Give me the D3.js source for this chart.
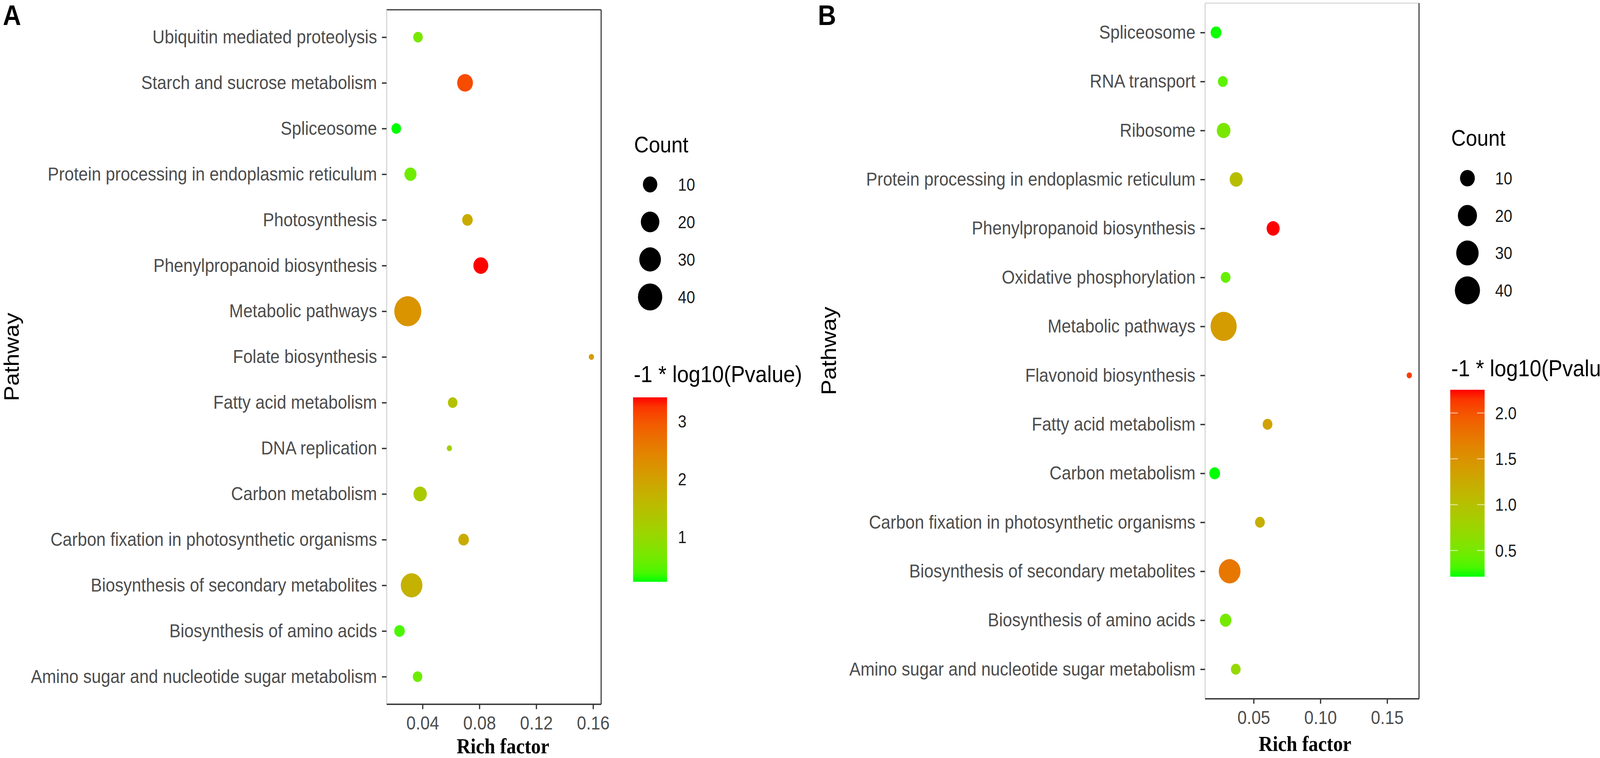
<!DOCTYPE html>
<html>
<head>
<meta charset="utf-8">
<script src="https://cdn.jsdelivr.net/npm/d3@7"></script>
<style>
  html, body { margin: 0; padding: 0; background: #ffffff; overflow: hidden; width: 100%; height: 100%; }
  svg { display: block; width: 100vw; height: 100vh; }
</style>
</head>
<body>
<svg id="chart"></svg>
<script>
// ---------------- DATA ----------------
// Panel A, listed top to bottom
const pathwaysA = [
  "Ubiquitin mediated proteolysis",
  "Starch and sucrose metabolism",
  "Spliceosome",
  "Protein processing in endoplasmic reticulum",
  "Photosynthesis",
  "Phenylpropanoid biosynthesis",
  "Metabolic pathways",
  "Folate biosynthesis",
  "Fatty acid metabolism",
  "DNA replication",
  "Carbon metabolism",
  "Carbon fixation in photosynthetic organisms",
  "Biosynthesis of secondary metabolites",
  "Biosynthesis of amino acids",
  "Amino sugar and nucleotide sugar metabolism"
];
const richA  = [0.0368, 0.0699, 0.0215, 0.0315, 0.0716, 0.0810, 0.0296, 0.1588, 0.0612, 0.0589, 0.0383, 0.0689, 0.0323, 0.0238, 0.0365];
const countA = [3, 13, 3, 6, 4, 11, 52, 1, 3, 1, 8, 4, 30, 4, 3];
const pvalA  = [0.70, 3.09, 0.226, 0.61, 1.82, 3.41, 2.20, 2.07, 1.44, 1.18, 1.28, 1.82, 1.72, 0.39, 0.61];

// Panel B, listed top to bottom
const pathwaysB = [
  "Spliceosome",
  "RNA transport",
  "Ribosome",
  "Protein processing in endoplasmic reticulum",
  "Phenylpropanoid biosynthesis",
  "Oxidative phosphorylation",
  "Metabolic pathways",
  "Flavonoid biosynthesis",
  "Fatty acid metabolism",
  "Carbon metabolism",
  "Carbon fixation in photosynthetic organisms",
  "Biosynthesis of secondary metabolites",
  "Biosynthesis of amino acids",
  "Amino sugar and nucleotide sugar metabolism"
];
const richB  = [0.0218, 0.0269, 0.0275, 0.0369, 0.0646, 0.0290, 0.0275, 0.1666, 0.0604, 0.0208, 0.0547, 0.0320, 0.0290, 0.0366];
const countB = [4, 3, 8, 7, 7, 3, 44, 1, 3, 4, 3, 28, 5, 3];
const pvalB  = [0.22, 0.38, 0.52, 1.02, 2.253, 0.42, 1.40, 2.11, 1.34, 0.214, 1.20, 1.74, 0.50, 0.70];

// Tick values / labels
const xTicksA = [0.04, 0.08, 0.12, 0.16];
const xTickLabelsA = ["0.04", "0.08", "0.12", "0.16"];
const xTicksB = [0.05, 0.10, 0.15];
const xTickLabelsB = ["0.05", "0.10", "0.15"];
const countBreaks = [10, 20, 30, 40];
const colorTicksA = [1, 2, 3];
const colorTickLabelsA = ["1", "2", "3"];
const colorTicksB = [0.5, 1.0, 1.5, 2.0];
const colorTickLabelsB = ["0.5", "1.0", "1.5", "2.0"];

// Text
const yTitle = "Pathway";
const xTitle = "Rich factor";
const sizeTitle = "Count";
const colorTitle = "-1 * log10(Pvalue)";

// ---------------- LAYOUT ----------------
const W = 4562, H = 1940;
const SANS = "'Liberation Sans', Arial, Helvetica, sans-serif";
const SERIF = "'Liberation Serif', 'Times New Roman', serif";

const svg = d3.select("#chart")
  .attr("viewBox", `0 0 ${W} ${H}`)
  .attr("preserveAspectRatio", "none");
svg.append("rect").attr("width", W).attr("height", H).attr("fill", "#ffffff");

const panels = [
  {
    letter: "A", letterX: 8, letterY: 64,
    names: pathwaysA, rich: richA, count: countA, pval: pvalA,
    xTicks: xTicksA, xTickLabels: xTickLabelsA,
    colorTicks: colorTicksA, colorTickLabels: colorTickLabelsA,
    left: 1102, right: 1714, top: 25, bottom: 1802,
    topLineColor: "#333333",
    xTitleX: 1434, xTitleY: 1928,
    yTitleX: 53,
    countTitleX: 1808, countTitleY: 390,
    countCx: 1853.6, countCy0: 472, countStep: 96, countLabelX: 1933,
    cbTitleX: 1807, cbTitleY: 978,
    cbX: 1805, cbW: 97, cbTop: 1017, cbBottom: 1489, cbLabelX: 1933,
    cbTicks: false,
    dMin: 15, dMax: 77
  },
  {
    letter: "B", letterX: 2332, letterY: 64,
    names: pathwaysB, rich: richB, count: countB, pval: pvalB,
    xTicks: xTicksB, xTickLabels: xTickLabelsB,
    colorTicks: colorTicksB, colorTickLabels: colorTickLabelsB,
    left: 3435.6, right: 4046, top: 8, bottom: 1788,
    topLineColor: "#d9d9d9",
    xTitleX: 3721, xTitleY: 1922,
    yTitleX: 2383,
    countTitleX: 4137.6, countTitleY: 373,
    countCx: 4184, countCy0: 456, countStep: 95.7, countLabelX: 4263,
    cbTitleX: 4138, cbTitleY: 963,
    cbX: 4135, cbW: 98, cbTop: 997.6, cbBottom: 1476, cbLabelX: 4263,
    cbTicks: true,
    dMin: 15, dMax: 74.5
  }
];

const defs = svg.append("defs");

panels.forEach((p, pi) => {
  const g = svg.append("g");
  const data = p.names.map((n, i) => ({ name: n, rich: p.rich[i], count: p.count[i], pval: p.pval[i] }));

  // Scales
  const [rMin, rMax] = d3.extent(p.rich);
  const pad = (rMax - rMin) * 0.05;
  const x = d3.scaleLinear().domain([rMin - pad, rMax + pad]).range([p.left, p.right]);
  const y = d3.scalePoint().domain(p.names).range([p.top, p.bottom]).padding(0.6);

  const [cMin, cMax] = d3.extent(p.count);
  const rScale = d3.scaleSqrt().domain([0, cMax - cMin]).range([p.dMin / 2, p.dMax / 2]);
  const radius = c => rScale(Math.max(0, c - cMin));

  const pExt = d3.extent(p.pval);
  const color = d3.scaleLinear().domain(pExt).range(["#00ff00", "#ff0000"]).interpolate(d3.interpolateLab);

  // Panel letter
  g.append("text").attr("x", p.letterX).attr("y", p.letterY)
    .attr("font-family", SANS).attr("font-weight", "bold").attr("font-size", 72)
    .attr("fill", "#000").text(p.letter);

  // Top and right borders
  g.append("line").attr("x1", p.left).attr("x2", p.right).attr("y1", p.top).attr("y2", p.top)
    .attr("stroke", p.topLineColor).attr("stroke-width", 3);
  g.append("line").attr("x1", p.right).attr("x2", p.right).attr("y1", p.top).attr("y2", p.bottom)
    .attr("stroke", "#333333").attr("stroke-width", 3);

  // Y axis
  const yAxis = g.append("g").attr("transform", `translate(${p.left},0)`)
    .call(d3.axisLeft(y).tickSize(13).tickPadding(14).tickSizeOuter(0));
  yAxis.select(".domain").attr("stroke", "#d9d9d9").attr("stroke-width", 3.5);
  yAxis.selectAll(".tick line").attr("stroke", "#333333").attr("stroke-width", 3.5);
  yAxis.selectAll(".tick text").attr("fill", "#4d4d4d").attr("font-size", 48)
    .attr("font-family", SANS);

  // X axis
  const xAxis = g.append("g").attr("transform", `translate(0,${p.bottom})`)
    .call(d3.axisBottom(x).tickValues(p.xTicks)
      .tickFormat((d, i) => p.xTickLabels[i])
      .tickSize(13).tickPadding(18).tickSizeOuter(0));
  xAxis.select(".domain").attr("stroke", "#333333").attr("stroke-width", 3.5);
  xAxis.selectAll(".tick line").attr("stroke", "#333333").attr("stroke-width", 3.5);
  xAxis.selectAll(".tick text").attr("fill", "#4d4d4d").attr("font-size", 48)
    .attr("font-family", SANS);

  // Axis titles
  g.append("text").attr("x", p.xTitleX).attr("y", p.xTitleY)
    .attr("text-anchor", "middle").attr("font-family", SERIF).attr("font-weight", "bold")
    .attr("font-size", 55).attr("fill", "#000").text(xTitle);
  g.append("text")
    .attr("transform", `translate(${p.yTitleX},${(p.top + p.bottom) / 2}) rotate(-90)`)
    .attr("text-anchor", "middle").attr("font-family", SANS).attr("font-size", 59)
    .attr("fill", "#000").text(yTitle);

  // Points
  g.append("g").selectAll("circle").data(data).join("circle")
    .attr("cx", d => x(d.rich)).attr("cy", d => y(d.name))
    .attr("r", d => radius(d.count))
    .attr("fill", d => color(d.pval));

  // Size legend
  const lg = g.append("g");
  lg.append("text").attr("x", p.countTitleX).attr("y", p.countTitleY)
    .attr("font-family", SANS).attr("font-size", 58).attr("fill", "#000").text(sizeTitle);
  countBreaks.forEach((c, i) => {
    const cy = p.countCy0 + i * p.countStep;
    lg.append("circle").attr("cx", p.countCx).attr("cy", cy).attr("r", radius(c)).attr("fill", "#000");
    lg.append("text").attr("x", p.countLabelX).attr("y", cy).attr("dy", "0.36em")
      .attr("font-family", SANS).attr("font-size", 44).attr("fill", "#1a1a1a").text(c);
  });

  // Colour bar legend
  lg.append("text").attr("x", p.cbTitleX).attr("y", p.cbTitleY)
    .attr("font-family", SANS).attr("font-size", 60).attr("fill", "#000").text(colorTitle);

  const gradId = "grad" + pi;
  const grad = defs.append("linearGradient").attr("id", gradId)
    .attr("x1", 0).attr("y1", 1).attr("x2", 0).attr("y2", 0);
  d3.range(0, 1.0001, 0.05).forEach(t => {
    grad.append("stop").attr("offset", t)
      .attr("stop-color", color(pExt[0] + t * (pExt[1] - pExt[0])));
  });
  lg.append("rect").attr("x", p.cbX).attr("y", p.cbTop)
    .attr("width", p.cbW).attr("height", p.cbBottom - p.cbTop)
    .attr("fill", `url(#${gradId})`);

  const cbScale = d3.scaleLinear().domain(pExt).range([p.cbBottom, p.cbTop]);
  p.colorTicks.forEach((v, i) => {
    const yy = cbScale(v);
    if (p.cbTicks) {
      lg.append("line").attr("x1", p.cbX).attr("x2", p.cbX + p.cbW * 0.22)
        .attr("y1", yy).attr("y2", yy).attr("stroke", "#ffffff").attr("stroke-opacity", 0.6).attr("stroke-width", 2.5);
      lg.append("line").attr("x1", p.cbX + p.cbW * 0.78).attr("x2", p.cbX + p.cbW)
        .attr("y1", yy).attr("y2", yy).attr("stroke", "#ffffff").attr("stroke-opacity", 0.6).attr("stroke-width", 2.5);
    }
    lg.append("text").attr("x", p.cbLabelX).attr("y", yy).attr("dy", "0.36em")
      .attr("font-family", SANS).attr("font-size", 44).attr("fill", "#1a1a1a")
      .text(p.colorTickLabels[i]);
  });
});
</script>
</body>
</html>
